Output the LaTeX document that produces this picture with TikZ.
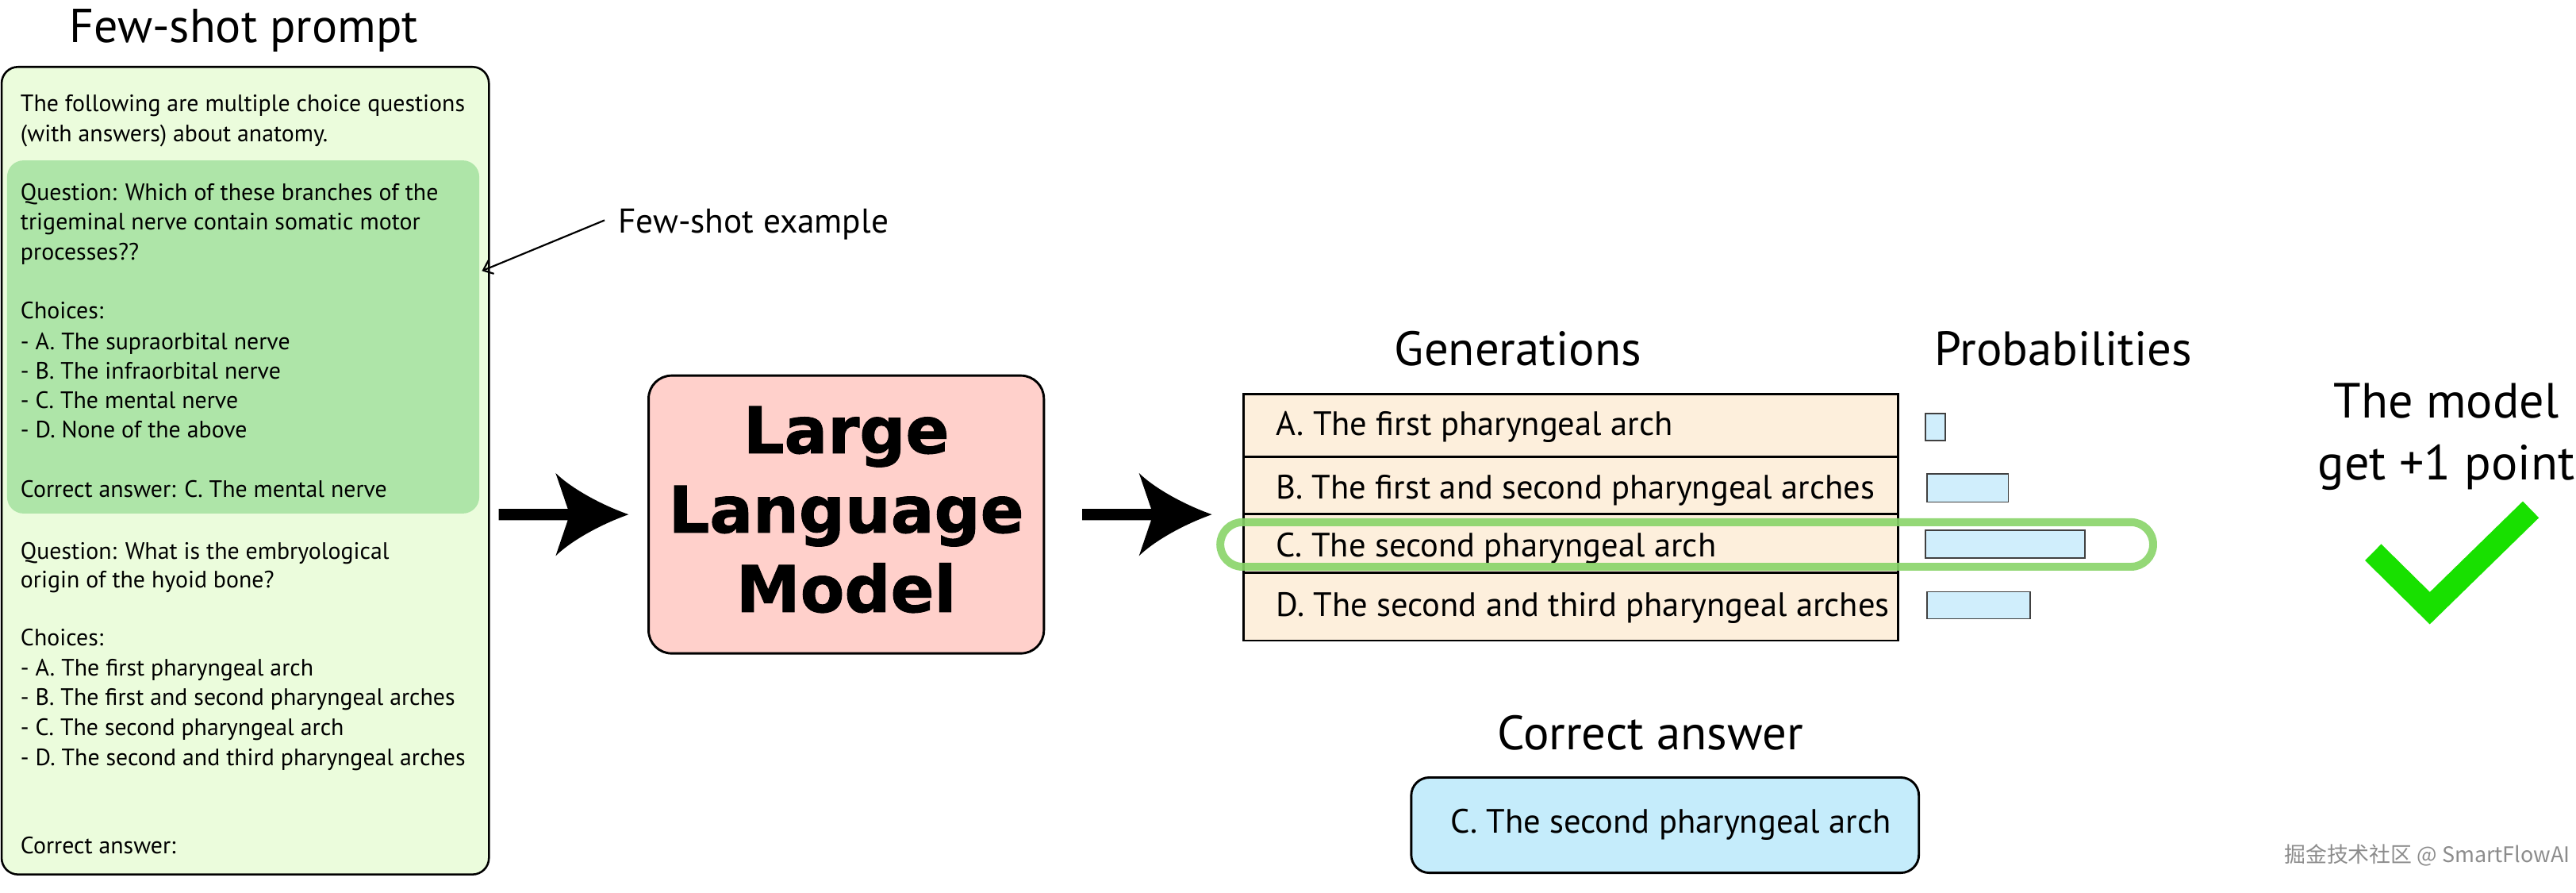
\documentclass[tikz,border=0pt]{standalone}
\usepackage{fontspec}
\setmainfont{PT Sans}
\newfontfamily\llmfont[FakeBold=1.2]{DejaVu Sans Bold}
\newfontfamily\cjkfont{Noto Sans CJK SC}
\usetikzlibrary{arrows.meta,calc}
\newcommand\pxu{0.02cm}
\definecolor{promptbg}{HTML}{EBFCDC}
\definecolor{shotbg}{HTML}{AEE5A8}
\definecolor{llmbg}{HTML}{FFD0CB}
\definecolor{genbg}{HTML}{FDEFDC}
\definecolor{probbg}{HTML}{D0EEFC}
\definecolor{hlgreen}{HTML}{88D468}
\definecolor{ansbg}{HTML}{C5ECFB}
\definecolor{tickgreen}{HTML}{18E000}
\begin{document}
\begin{tikzpicture}[x=0.02cm,y=-0.02cm,
  ptext/.style={anchor=base west, inner sep=0pt, font=\fontsize{8.2}{10}\selectfont},
  rowtext/.style={anchor=base west, inner sep=0pt, font=\fontsize{11.7}{14}\selectfont},
  head/.style={anchor=base, inner sep=0pt, font=\fontsize{16.7}{20}\selectfont},
  genrow/.style={draw, fill=genbg, line width=0.8pt, inner sep=0pt, anchor=north west, minimum width=398.4*\pxu},
  probbar/.style={draw=black!75, fill=probbg, line width=0.5pt, inner sep=0pt, anchor=north west},
  bigarrow/.pic={\fill (0,-3.45) -- (42,-3.45) -- (34.6,-25.2) .. controls (44,-16) and (62,-6) .. (79,0) .. controls (62,6) and (44,16) .. (34.6,25.2) -- (42,3.45) -- (0,3.45) -- cycle;}
]
\path[use as bounding box] (0,0) rectangle (1568,543);

% ---------- prompt ----------
\node[head, font=\fontsize{16.5}{19}\selectfont] (title) at (148.3,26) {Few-shot prompt};
\node[draw, fill=promptbg, line width=0.7pt, rounded corners=10*\pxu, inner sep=0pt,
      minimum width=296.6*\pxu, minimum height=491.3*\pxu] (prompt) at (149.3,286.35) {};
\node[fill=shotbg, rounded corners=10*\pxu, inner sep=0pt,
      minimum width=287.4*\pxu, minimum height=214.8*\pxu] (shot) at (148,205) {};
\foreach \yy/\txt [count=\i] in {
  68/{The following are multiple choice questions},
  86/{(with answers) about anatomy.},
  122/{Question: Which of these branches of the},
  140/{trigeminal nerve contain somatic motor},
  158/{processes??},
  194/{Choices:},
  212.5/{- A. The supraorbital nerve},
  230.5/{- B. The infraorbital nerve},
  248.5/{- C. The mental nerve},
  266.5/{- D. None of the above},
  302.5/{Correct answer: C. The mental nerve},
  340/{Question: What is the embryological},
  357.5/{origin of the hyoid bone?},
  393/{Choices:},
  411.3/{- A. The first pharyngeal arch},
  429.3/{- B. The first and second pharyngeal arches},
  447.4/{- C. The second pharyngeal arch},
  465.6/{- D. The second and third pharyngeal arches},
  519.3/{Correct answer:}}
  \node[ptext] (pl\i) at (12.2,\yy) {\txt};

% few-shot example annotation
\node[anchor=base west, inner sep=0pt, font=\fontsize{11.9}{14}\selectfont] (fse) at (376,141.7) {Few-shot example};
\coordinate (fsetip) at (shot.east |- 0,164.8);
\draw[line width=0.6pt, -{Straight Barb[length=3pt,width=5pt]}] ($(fse.base west)+(-8,-7.7)$) -- ([xshift=1.3*\pxu]fsetip);

% ---------- LLM ----------
\node[draw, fill=llmbg, line width=0.8pt, rounded corners=14*\pxu, inner sep=0pt,
      minimum width=240.6*\pxu, minimum height=169*\pxu] (llm) at (515.1,313) {};
\foreach \yy/\txt [count=\i] in {275.7/Large, 324/Language, 372.3/Model}
  \node[anchor=base, inner sep=0pt, font=\llmfont\fontsize{22.3}{27}\selectfont] (llm\i) at (515.1,\yy) {\txt};

% big arrows
\coordinate (a1s) at ($(prompt.east |- llm.west)+(5.4,0)$);
\coordinate (a2s) at ($(llm.east)+(22.6,0)$);
\pic at (a1s) {bigarrow};
\pic at (a2s) {bigarrow};

% ---------- generations ----------
\node[head] (gen) at (924,222.4) {Generations};
\node[head] (prob) at (1256,222.4) {Probabilities};
\node[genrow, minimum height=38*\pxu] (rA) at (756.4,239) {};
\node[genrow, minimum height=35*\pxu] (rB) at (756.4,277) {};
\node[genrow, minimum height=35.5*\pxu] (rC) at (756.4,312) {};
\node[genrow, minimum height=41.5*\pxu] (rD) at (756.4,347.5) {};
\node[rowtext] (tA) at (776.4,265) {A. The first pharyngeal arch};
\node[rowtext] (tB) at (776.4,303.7) {B. The first and second pharyngeal arches};
\node[rowtext] (tC) at (776.4,339) {C. The second pharyngeal arch};
\node[rowtext] (tD) at (776.4,374.9) {D. The second and third pharyngeal arches};

\node[probbar, minimum width=12.1*\pxu, minimum height=16.5*\pxu] (pA) at (1171.6,251) {};
\node[probbar, minimum width=49.6*\pxu, minimum height=17*\pxu] (pB) at (1172.4,288) {};
\node[probbar, minimum width=96.9*\pxu, minimum height=17*\pxu] (pC) at (1171.6,322) {};
\node[probbar, minimum width=62.9*\pxu, minimum height=16.4*\pxu] (pD) at (1172.4,359.6) {};

\node[draw=hlgreen, draw opacity=0.9, line width=4.8*\pxu, rounded corners=13.5*\pxu, inner sep=0pt,
      minimum width=567.8*\pxu, minimum height=27.1*\pxu] (hl) at (1026.7,331.25) {};

% ---------- correct answer ----------
\node[head] (cahead) at (1004.5,456) {Correct answer};
\node[draw, fill=ansbg, line width=0.8pt, rounded corners=11*\pxu, inner sep=0pt,
      minimum width=309*\pxu, minimum height=58*\pxu] (ans) at (1013.5,502) {};
\node[rowtext] (anstext) at (882.8,507) {C. The second pharyngeal arch};

% ---------- score ----------
\node[head, font=\fontsize{17.1}{21}\selectfont] (model1) at (1489,254.2) {The model};
\node[head, font=\fontsize{17.1}{21}\selectfont] (model2) at (1489,291.8) {get +1 point};
\draw[tickgreen, line width=14*\pxu, miter limit=10] (1444.5,336) -- (1479,370) -- (1540.5,310);

% watermark
\node[anchor=base west, inner sep=0pt, text=black!45, font=\cjkfont\fontsize{7.4}{9}\selectfont] (wm) at (1390,524.7) {掘金技术社区 @ SmartFlowAI};
\end{tikzpicture}
\end{document}
